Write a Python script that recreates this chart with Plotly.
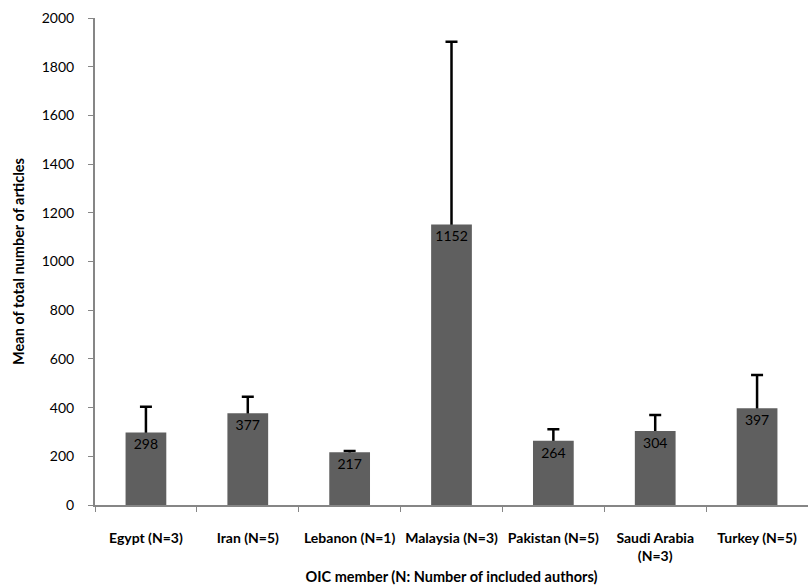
import plotly.graph_objects as go

categories = ["Egypt (N=3)", "Iran (N=5)", "Lebanon (N=1)", "Malaysia (N=3)",
              "Pakistan (N=5)", "Saudi Arabia<br>(N=3)", "Turkey (N=5)"]
means = [298, 377, 217, 1152, 264, 304, 397]
errors_up = [105, 68, 5, 750, 47, 66, 137]
y_ticks = [0, 200, 400, 600, 800, 1000, 1200, 1400, 1600, 1800, 2000]

font_family = "Lato, 'Liberation Sans', sans-serif"
axis_color = "#868686"
bar_color = "#5f5f5f"

fig = go.Figure()
# hidden bars carrying the error bars (lower part hidden under the visible bars)
fig.add_trace(go.Bar(
    x=categories, y=means,
    marker=dict(color="rgba(0,0,0,0)", line=dict(width=0)),
    width=0.4, hoverinfo="skip",
    error_y=dict(type="data", symmetric=False, array=errors_up,
                 arrayminus=[30] * len(means), color="black", thickness=2.5, width=6),
))
fig.add_trace(go.Bar(
    x=categories, y=means,
    marker=dict(color=bar_color, line=dict(width=0)),
    width=0.4,
    text=[str(v) for v in means],
    textposition="inside", insidetextanchor="end",
    textfont=dict(color="black", size=14, family=font_family),
    textangle=0,
))

fig.update_layout(
    width=808, height=585,
    margin=dict(l=95, r=0, t=18, b=80),
    plot_bgcolor="white", paper_bgcolor="white",
    showlegend=False, barmode="overlay",
    font=dict(family=font_family, color="black"),
)
fig.update_xaxes(
    showline=True, linecolor=axis_color, linewidth=2,
    ticks="outside", tickson="boundaries", ticklen=5, tickcolor=axis_color, tickwidth=1,
    tickfont=dict(size=14, family=font_family, weight="bold"),
    ticklabelstandoff=19,
    title=dict(text="<b>OIC member (N: Number of included authors)</b>",
               font=dict(size=14.5, family=font_family), standoff=12),
    automargin=False,
)
fig.update_yaxes(
    range=[0, 2000], tickvals=y_ticks,
    showline=True, linecolor=axis_color, linewidth=2,
    ticks="outside", ticklen=5, tickcolor=axis_color, tickwidth=1,
    showgrid=False, zeroline=False,
    tickfont=dict(size=14, family=font_family),
    ticklabelstandoff=11,
    title=dict(text="<b>Mean of total number of articles</b>",
               font=dict(size=14.5, family=font_family), standoff=14),
    automargin=False,
)

fig.write_html("out.html", config={"displayModeBar": False},
               post_script="document.body.style.margin='0';document.body.style.padding='0';")
